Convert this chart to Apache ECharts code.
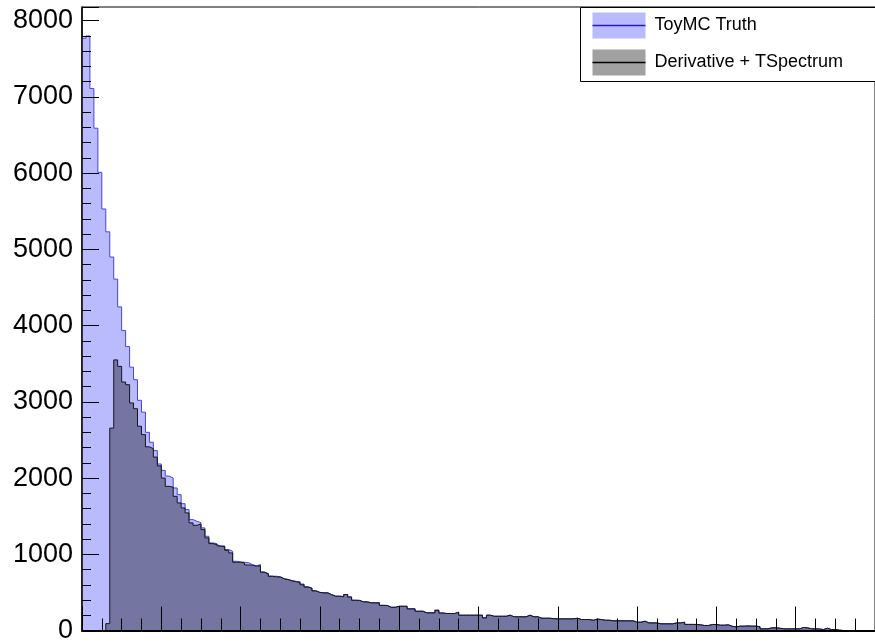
<!DOCTYPE html>
<html>
<head>
<meta charset="utf-8">
<script src="https://cdn.jsdelivr.net/npm/echarts@6/dist/echarts.min.js"></script>
<style>
  html, body { margin: 0; padding: 0; background: #fff; }
  #chart { width: 875px; height: 644px; }
</style>
</head>
<body>
<div id="chart"></div>
<script>
// Histogram contents, 200 bins (bin index on the x axis)
const truthCounts = [
  7770, 7800, 7110, 6590, 6010, 5530, 5230, 4900, 4610, 4245,
  3935, 3725, 3455, 3290, 3020, 2865, 2600, 2470, 2360, 2185,
  2100, 2026, 2000, 1870, 1782, 1664, 1586, 1455, 1432, 1415,
  1346, 1236, 1149, 1140, 1110, 1110, 1062, 1039, 908, 900,
  895, 890, 865, 848, 865, 769, 747, 712, 712, 705,
  680, 670, 655, 645, 640, 610, 575, 555, 522, 500,
  494, 494, 470, 450, 450, 445, 472, 440, 397, 395,
  376, 376, 363, 363, 363, 330, 328, 305, 305, 318,
  318, 318, 284, 284, 253, 253, 232, 232, 232, 266,
  230, 223, 223, 223, 240, 201, 201, 201, 201, 201,
  201, 166, 201, 187, 187, 187, 187, 201, 180, 180,
  180, 180, 201, 180, 180, 161, 161, 161, 155, 153,
  153, 153, 153, 153, 161, 144, 144, 144, 135, 150,
  144, 135, 135, 127, 127, 127, 127, 127, 127, 109,
  109, 122, 100, 100, 100, 88, 88, 88, 88, 100,
  100, 109, 80, 80, 79, 75, 66, 66, 79, 79,
  70, 70, 75, 55, 48, 57, 57, 60, 57, 57,
  50, 22, 22, 35, 35, 30, 22, 22, 22, 22,
  22, 40, 35, 22, 22, 20, 13, 30, 13, 13,
  5, 0, 0, 0, 0, 0, 0, 0, 0, 0
];

const recoCounts = [
  0, 0, 0, 0, 0, 0, 90, 2655, 3550, 3465,
  3260, 3225, 2985, 2910, 2680, 2570, 2410, 2385, 2275, 2160,
  2000, 1891, 1880, 1760, 1674, 1608, 1543, 1412, 1380, 1398,
  1324, 1215, 1140, 1127, 1105, 1100, 1052, 1018, 895, 895,
  887, 860, 856, 843, 850, 764, 743, 712, 703, 703,
  678, 668, 650, 640, 629, 600, 570, 555, 520, 500,
  494, 494, 470, 450, 450, 445, 472, 440, 397, 395,
  376, 376, 363, 363, 363, 330, 328, 305, 305, 318,
  318, 318, 284, 284, 253, 253, 232, 232, 232, 266,
  230, 223, 223, 223, 240, 201, 201, 201, 201, 201,
  201, 166, 201, 187, 187, 187, 187, 201, 180, 180,
  180, 180, 201, 180, 180, 161, 161, 161, 155, 153,
  153, 153, 153, 153, 161, 144, 144, 144, 135, 150,
  144, 135, 135, 127, 127, 127, 127, 127, 127, 109,
  109, 122, 100, 100, 100, 88, 88, 88, 88, 100,
  100, 109, 80, 80, 79, 75, 66, 66, 79, 79,
  70, 70, 75, 55, 48, 57, 57, 60, 57, 57,
  50, 22, 22, 35, 35, 30, 22, 22, 22, 22,
  22, 40, 35, 22, 22, 20, 13, 30, 13, 13,
  5, 0, 0, 0, 0, 0, 0, 0, 0, 0
];

const seriesNames = ['ToyMC Truth', 'Derivative + TSpectrum'];
const yTicks = [0, 1000, 2000, 3000, 4000, 5000, 6000, 7000, 8000];

const nBins = truthCounts.length;
const yMax = 8180;

// Turn bin contents into step points: each bin is flat over [i, i+1]
function toSteps(counts) {
  const pts = counts.map((v, i) => [i, v]);
  pts.push([counts.length, counts[counts.length - 1]]);
  return pts;
}

const FONT = '"Liberation Sans", Arial, Helvetica, sans-serif';

const chart = echarts.init(document.getElementById('chart'), null, { renderer: 'canvas' });

chart.setOption({
  animation: false,
  backgroundColor: '#ffffff',
  grid: {
    left: 82, top: 7, width: 800, height: 624,
    show: true, borderColor: '#000', borderWidth: 1,
    backgroundColor: 'transparent'
  },
  xAxis: {
    type: 'value', min: 0, max: nBins, interval: 20, z: 10,
    axisLine: { show: true, lineStyle: { color: '#000', width: 2 } },
    axisTick: { show: true, inside: true, length: 24, lineStyle: { color: '#000', width: 1 } },
    minorTick: { show: true, splitNumber: 4, length: 12, lineStyle: { color: '#000', width: 1 } },
    axisLabel: { show: false },
    splitLine: { show: false }
  },
  yAxis: {
    type: 'value', min: 0, max: yMax, interval: 1000, z: 10,
    axisLine: { show: true, lineStyle: { color: '#000', width: 1.5 } },
    axisTick: { show: true, inside: true, length: 17, lineStyle: { color: '#000', width: 1 } },
    minorTick: { show: true, splitNumber: 5, length: 9, lineStyle: { color: '#000', width: 1 } },
    axisLabel: {
      show: true, margin: 9, color: '#000', fontSize: 27, fontFamily: FONT,
      showMaxLabel: false,
      formatter: v => (yTicks.indexOf(v) >= 0 ? String(v) : '')
    },
    splitLine: { show: false }
  },
  series: [
    {
      name: seriesNames[0],
      type: 'line', step: 'end', symbol: 'none',
      data: toSteps(truthCounts),
      lineStyle: { color: '#4646dc', width: 1 },
      areaStyle: { color: '#babaff', opacity: 1 },
      z: 2
    },
    {
      name: seriesNames[1],
      type: 'line', step: 'end', symbol: 'none',
      data: toSteps(recoCounts),
      lineStyle: { color: '#15151f', width: 1 },
      areaStyle: { color: 'rgba(0,0,0,0.37)', opacity: 1 },
      z: 3
    }
  ],
  graphic: [
    {
      type: 'group', left: 580, top: 7, z: 100,
      children: [
        { type: 'rect', shape: { x: 0, y: 0, width: 320, height: 74 },
          style: { fill: '#fff', stroke: '#000', lineWidth: 1 } },
        { type: 'rect', shape: { x: 12, y: 5, width: 53, height: 26 },
          style: { fill: '#babaff' } },
        { type: 'line', shape: { x1: 12, y1: 18, x2: 65, y2: 18 },
          style: { stroke: '#2020b8', lineWidth: 1.5 } },
        { type: 'text', x: 74, y: 18,
          style: { text: seriesNames[0], fill: '#000', font: '18px ' + FONT, verticalAlign: 'middle' } },
        { type: 'rect', shape: { x: 12, y: 42, width: 53, height: 26 },
          style: { fill: '#a1a1a1' } },
        { type: 'line', shape: { x1: 12, y1: 55, x2: 65, y2: 55 },
          style: { stroke: '#000', lineWidth: 1.5 } },
        { type: 'text', x: 74, y: 55,
          style: { text: seriesNames[1], fill: '#000', font: '18px ' + FONT, verticalAlign: 'middle' } }
      ]
    }
  ]
});
</script>
</body>
</html>
